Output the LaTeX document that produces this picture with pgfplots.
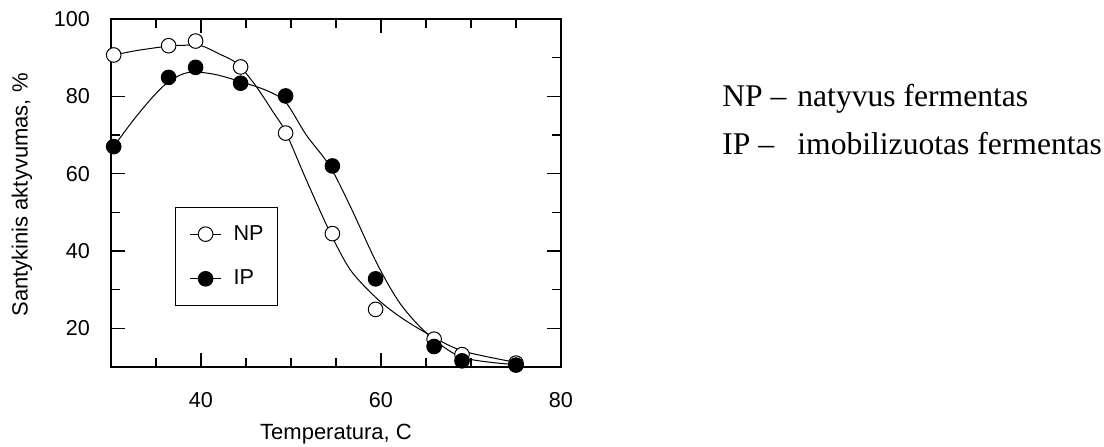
\documentclass[border=0pt]{standalone}
\usepackage{fontspec}
\setmainfont{Liberation Sans}
\newfontfamily\timesfont{Liberation Serif}
\usepackage{pgfplots}
\pgfplotsset{compat=1.18}
\begin{document}
\begin{tikzpicture}
\path[use as bounding box] (0pt,0pt) rectangle (552pt,-223pt);
\begin{axis}[
  at={(55.5pt,-183.5pt)}, anchor=south west,
  scale only axis, width=225pt, height=174pt,
  xmin=30, xmax=80, ymin=10, ymax=100,
  xtick={40,60,80}, minor xtick={35,45,50,55,65,70,75},
  ytick={20,40,60,80,100}, minor ytick={30,50,70,90},
  tick align=inside,
  major tick length=7pt, minor tick length=4.5pt,
  every tick/.style={black, line width=0.6pt},
  axis line style={line width=0.7pt},
  tick label style={font=\fontsize{10.8}{12}\selectfont},
  /pgf/number format/assume math mode=true,
  xticklabel shift=9pt, yticklabel shift=7pt,
  legend cell align=left,
  legend style={at={(0.1422,0.4598)}, anchor=north west, draw=black, line width=0.6pt,
    inner xsep=7pt, inner ysep=8.8pt, row sep=13.4pt, column sep=6pt,
    font=\fontsize{10.8}{12}\selectfont, nodes={inner sep=0pt}},
  legend image code/.code={\draw[mark repeat=2,mark phase=2,#1] plot coordinates {(0pt,0pt) (7.75pt,0pt) (15.5pt,0pt)};},
]
% fitted curves
\addplot[black, line width=0.5pt, smooth, forget plot] coordinates {
 (30.3,90.7) (33,91.9) (36.4,93.0) (38,93.2) (40,93.1) (42,91.0) (44,88.5) (46,83.0) (48,76.0) (49.4,70.8) (51.7,58.4) (54.3,45.0) (56.6,35.1) (59.5,27.8) (62.1,23.0) (65.1,18.7) (69,14.2) (75,11.2)
};
\addplot[black, line width=0.5pt, smooth, forget plot] coordinates {
 (30.3,67) (32.5,73.9) (34.7,80) (36.4,83.8) (38,85.8) (39.4,86.3) (41.7,85.6) (44.4,83.8) (47.3,81.5) (49.4,78.5) (51.7,70) (54.3,62) (56.6,51.5) (59.5,37) (62.1,26.5) (65.1,18.7) (69,12.5) (75,10.6)
};
% data points
\addplot[only marks, mark=*, mark size=3.65pt, mark options={fill=white, draw=black, line width=0.5pt}, forget plot] coordinates {
 (30.3,90.7) (36.4,93.1) (39.4,94.3) (44.4,87.6) (49.4,70.5) (54.6,44.5) (59.4,24.9) (65.9,17.2) (69,13.2) (75,11)
};
\addplot[only marks, mark=*, mark size=3.65pt, mark options={fill=black, draw=black, line width=0.5pt}, forget plot] coordinates {
 (30.3,67) (36.4,84.9) (39.4,87.5) (44.4,83.4) (49.4,80.1) (54.6,62) (59.4,32.8) (65.9,15.3) (69,11.6) (75,10.5)
};
\addlegendimage{black, line width=0.5pt, mark=*, mark size=3.65pt, mark options={fill=white, draw=black}}
\addlegendentry{NP}
\addlegendimage{black, line width=0.5pt, mark=*, mark size=3.65pt, mark options={fill=black, draw=black}}
\addlegendentry{IP}
\end{axis}
\begin{scope}[x=0.5pt, y=-0.5pt]
\node[anchor=base, inner sep=0pt, font=\fontsize{11}{12}\selectfont] at (336,439) {Temperatura, C};
\node[rotate=90, anchor=base, inner sep=0pt, font=\fontsize{11}{12}\selectfont] at (27.5,195) {Santykinis aktyvumas, \%};
\node[anchor=base west, inner sep=0pt, font=\timesfont\fontsize{15.8}{18}\selectfont] at (722,106) {NP –};
\node[anchor=base west, inner sep=0pt, font=\timesfont\fontsize{15.8}{18}\selectfont] at (797,106) {natyvus fermentas};
\node[anchor=base west, inner sep=0pt, font=\timesfont\fontsize{15.8}{18}\selectfont] at (722,154) {IP –};
\node[anchor=base west, inner sep=0pt, font=\timesfont\fontsize{15.8}{18}\selectfont] at (797,154) {imobilizuotas fermentas};
\end{scope}
\end{tikzpicture}
\end{document}
